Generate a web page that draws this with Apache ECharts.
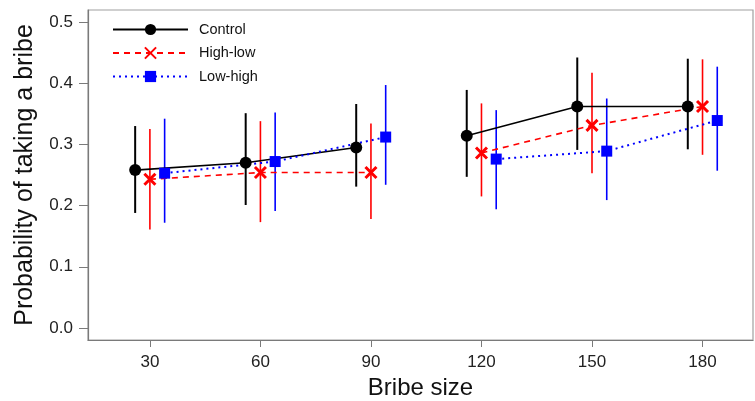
<!DOCTYPE html>
<html>
<head>
<meta charset="utf-8">
<script src="https://cdn.jsdelivr.net/npm/echarts@6/dist/echarts.min.js"></script>
<style>html,body{margin:0;padding:0;background:#fff}#c{width:755px;height:401px}</style>
</head>
<body>
<div id="c"></div>
<script>
const bribeSizes = [30, 60, 90, 120, 150, 180];
const xTicks = [30, 60, 90, 120, 150, 180];
const yTicks = [0, 0.1, 0.2, 0.3, 0.4, 0.5];
const seriesNames = ['Control', 'High-low', 'Low-high'];

const controlMean = [0.258, 0.270, 0.295, 0.314, 0.362, 0.362];
const controlLow  = [0.188, 0.201, 0.231, 0.247, 0.291, 0.292];
const controlHigh = [0.330, 0.351, 0.366, 0.389, 0.442, 0.440];

const highLowMean = [0.243, 0.254, 0.254, 0.286, 0.331, 0.362];
const highLowLow  = [0.161, 0.173, 0.178, 0.215, 0.253, 0.283];
const highLowHigh = [0.325, 0.338, 0.334, 0.367, 0.417, 0.439];

const lowHighMean = [0.253, 0.272, 0.312, 0.276, 0.289, 0.339];
const lowHighLow  = [0.172, 0.191, 0.234, 0.194, 0.209, 0.257];
const lowHighHigh = [0.342, 0.352, 0.397, 0.356, 0.375, 0.427];

const groups = [
  {name: seriesNames[0], mean: controlMean, lo: controlLow, hi: controlHigh, dx: -4,
   color: '#000000', lineType: 'solid', lineWidth: 1.6, barWidth: 2, symbol: 'circle', symbolSize: 12},
  {name: seriesNames[1], mean: highLowMean, lo: highLowLow, hi: highLowHigh, dx: 0,
   color: '#ff0000', lineType: [6, 5], lineWidth: 1.6, barWidth: 1.6, symbol: 'path://M0,0L10,10M10,0L0,10', symbolSize: 11},
  {name: seriesNames[2], mean: lowHighMean, lo: lowHighLow, hi: lowHighHigh, dx: 4,
   color: '#0000ff', lineType: [2, 4], lineWidth: 2, barWidth: 1.6, symbol: 'rect', symbolSize: 11}
];

const series = [];
groups.forEach(g => {
  series.push({
    name: g.name + ' CI', type: 'custom', z: 1,
    data: bribeSizes.map((s, i) => [s + g.dx, g.lo[i], g.hi[i]]),
    encode: {x: 0, y: [1, 2]},
    renderItem: function (params, api) {
      const x = api.value(0);
      const p1 = api.coord([x, api.value(1)]);
      const p2 = api.coord([x, api.value(2)]);
      return {type: 'line', shape: {x1: p1[0], y1: p1[1], x2: p2[0], y2: p2[1]},
              style: {stroke: g.color, lineWidth: g.barWidth}};
    },
    silent: true
  });
});
groups.forEach(g => {
  const data = [];
  bribeSizes.forEach((s, i) => {
    data.push([s + g.dx, g.mean[i]]);
    if (i === 2) data.push([s + g.dx + 15, '-']);
  });
  const isX = g.symbol.indexOf('path') === 0;
  series.push({
    name: g.name, type: 'line', z: 3, data: data,
    symbol: g.symbol, symbolSize: g.symbolSize, showSymbol: true,
    connectNulls: false,
    lineStyle: {color: g.color, width: g.lineWidth, type: g.lineType},
    itemStyle: isX ? {color: 'rgba(0,0,0,0)', borderColor: g.color, borderWidth: 3}
                   : {color: g.color, borderColor: g.color, borderWidth: 0},
    emphasis: {disabled: true},
    animation: false
  });
});

const FONT = 'Arial, "Liberation Sans", sans-serif';
const chart = echarts.init(document.getElementById('c'), null, {renderer: 'canvas'});
chart.setOption({
  animation: false,
  backgroundColor: '#ffffff',
  textStyle: {fontFamily: FONT},
  grid: {left: 88, right: 2, top: 10, bottom: 61, show: true, borderColor: '#a0a0a0', borderWidth: 1.2,
         outerBoundsMode: 'none', containLabel: false},
  legend: {
    data: seriesNames, orient: 'vertical', left: 107, top: 17,
    itemWidth: 75, itemHeight: 14, itemGap: 8.5,
    textStyle: {fontSize: 14.5, color: '#111', padding: [0, 0, 0, 6], fontFamily: FONT},
    selectedMode: false
  },
  xAxis: {
    type: 'value', min: 13.2, max: 193.7,
    name: 'Bribe size', nameLocation: 'middle', nameGap: 34,
    nameTextStyle: {fontSize: 24, color: '#111'},
    axisLine: {show: true, onZero: false, lineStyle: {color: '#7a7a7a', width: 1.2}},
    axisTick: {show: true, length: 7, customValues: xTicks, lineStyle: {color: '#7a7a7a'}},
    axisLabel: {customValues: xTicks, fontSize: 17, color: '#222', margin: 14},
    splitLine: {show: false}
  },
  yAxis: {
    type: 'value', min: -0.0196, max: 0.5196,
    name: 'Probability of taking a bribe', nameLocation: 'middle', nameGap: 50, nameRotate: 90,
    nameTextStyle: {fontSize: 25, color: '#111'},
    axisLine: {show: true, onZero: false, lineStyle: {color: '#7a7a7a', width: 1.2}},
    axisTick: {show: true, length: 9, customValues: yTicks, lineStyle: {color: '#7a7a7a'}},
    axisLabel: {customValues: yTicks, fontSize: 17, color: '#222', margin: 15,
                formatter: v => v.toFixed(1)},
    splitLine: {show: false}
  },
  series: series
});
</script>
</body>
</html>
